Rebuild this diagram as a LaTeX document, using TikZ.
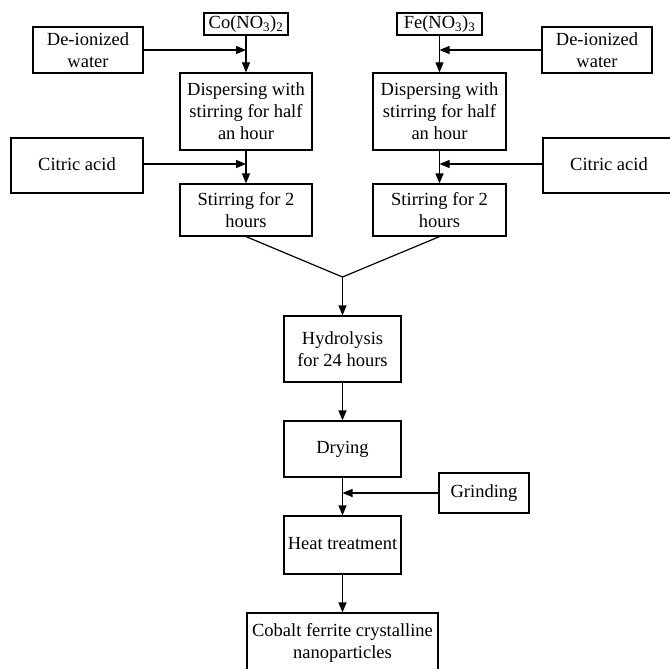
\documentclass[tikz,border=0pt]{standalone}
\usepackage{fontspec}
\setmainfont{Liberation Serif}
\usetikzlibrary{arrows.meta}
\begin{document}
\begin{tikzpicture}[x=1pt,y=-1pt,
  box/.style={draw, line width=1.2pt, inner sep=0pt, align=center,
    font=\fontsize{18.5}{22}\selectfont, text height=13pt, text depth=4pt},
  arr/.style={line width=1.2pt, -{Triangle[length=10pt,width=8pt]}},
  ln/.style={line width=1.2pt}]
\useasboundingbox (0,0) rectangle (670,669);
\clip (0,0) rectangle (670,669);
% left column
\node[box, minimum width=84pt, minimum height=22pt] (co) at (246,24) {Co(NO\textsubscript{3})\textsubscript{2}};
\node[box, minimum width=110pt, minimum height=46pt, text height=, text depth=] (dwl) at (88,50) {De-ionized\\water};
\node[box, minimum width=132pt, minimum height=77pt, text height=, text depth=] (dispL) at (246,111.5) {Dispersing with\\stirring for half\\an hour};
\node[box, minimum width=132pt, minimum height=55pt] (caL) at (77,165.5) {Citric acid};
\node[box, minimum width=132pt, minimum height=52pt, text height=, text depth=] (stL) at (246,210) {Stirring for 2\\hours};
% right column
\node[box, minimum width=85pt, minimum height=22pt] (fe) at (439.5,24) {Fe(NO\textsubscript{3})\textsubscript{3}};
\node[box, minimum width=110pt, minimum height=46pt, text height=, text depth=] (dwr) at (597,50) {De-ionized\\water};
\node[box, minimum width=133pt, minimum height=77pt, text height=, text depth=] (dispR) at (439.5,111.5) {Dispersing with\\stirring for half\\an hour};
\node[box, minimum width=132pt, minimum height=55pt] (caR) at (609,165.5) {Citric acid};
\node[box, minimum width=133pt, minimum height=52pt, text height=, text depth=] (stR) at (439.5,210) {Stirring for 2\\hours};
% centre
\coordinate (m) at (342.5,277);
\node[box, minimum width=117pt, minimum height=66pt, text height=, text depth=] (hyd) at (342.5,349) {Hydrolysis\\for 24 hours};
\node[box, minimum width=117pt, minimum height=56pt] (dry) at (342.5,449) {Drying};
\node[box, minimum width=90pt, minimum height=40pt] (grind) at (484,493) {Grinding};
\node[box, minimum width=117pt, minimum height=58pt] (heat) at (342.5,545) {Heat treatment};
\node[box, minimum width=191pt, minimum height=59pt, text height=, text depth=] (cob) at (342.5,642.5) {Cobalt ferrite crystalline\\nanoparticles};
% connectors
\draw[arr] (co) -- (dispL);
\draw[arr] (dwl.east) -- (dwl.east -| co);
\draw[arr] (dispL) -- (stL);
\draw[arr] (caL.east |- 0,164) -- (246,164);
\draw[arr] (fe) -- (dispR);
\draw[arr] (dwr.west) -- (dwr.west -| fe);
\draw[arr] (dispR) -- (stR);
\draw[arr] (caR.west |- 0,164) -- (439.5,164);
\draw[ln] (stL.south) -- (m) -- (stR.south);
\draw[arr] (m) -- (hyd);
\draw[arr] (hyd) -- (dry);
\draw[arr] (grind.west) -- (grind.west -| dry);
\draw[arr] (dry) -- (heat);
\draw[arr] (heat) -- (cob);
\end{tikzpicture}
\end{document}
